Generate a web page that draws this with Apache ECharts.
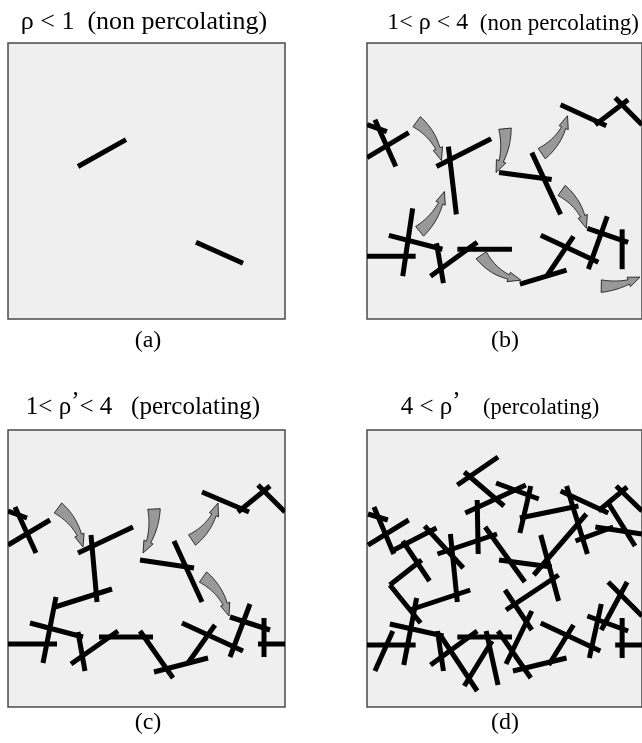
<!DOCTYPE html>
<html><head><meta charset="utf-8">
<script src="https://cdn.jsdelivr.net/npm/echarts@6/dist/echarts.min.js"></script>
<style>html,body{margin:0;padding:0;background:#fff}#c{width:642px;height:743px}</style>
</head><body><div id="c"></div>
<script>
// Panel titles: [math part, prime, math rest, parenthetical]
const titleA = ['ρ < 1', '', '', '  (non percolating)'];
const titleB = ['1< ρ < 4', '', '', '  (non percolating)'];
const titleC = ['1< ρ', '’', '< 4', '   (percolating)'];
const titleD = ['4 < ρ', '’', '', '    (percolating)'];
const panelLabels = ['(a)', '(b)', '(c)', '(d)'];

// Sticks: [x1, y1, x2, y2] in panel units (0..277, y downward)
const sticksA = [[70,124,118,97],[188,200,235,221]];
const sticksB = [
  [0,115,42,90],[8,77,29,124],[0,82,20,89],[70,124,125,96],[82,104,90,172],
  [133,130,186,137],[166,110,195,172],[195,62,241,83],[230,82,263,57],[250,55,277,82],
  [46,166,36,234],[22,193,76,207],[0,214,49,214],[70,201,77,241],[64,234,111,200],
  [91,207,146,207],[154,242,201,228],[175,193,233,220],[208,194,181,234],[242,174,223,227],
  [222,186,263,200],[257,187,257,227]
];
const sticksC = [
  [0,115,42,90],[7,77,28,123],[0,81,19,88],[70,123,125,97],[83,105,89,172],
  [132,130,186,138],[166,111,194,172],[194,62,241,82],[230,82,262,56],[250,55,277,82],
  [47,177,104,159],[48,167,35,233],[22,193,75,207],[0,214,49,214],[70,202,77,241],
  [63,234,110,201],[91,207,145,207],[132,201,165,248],[146,242,200,228],[174,193,235,221],
  [207,195,180,233],[242,174,222,227],[222,187,262,200],[256,188,256,227],[250,214,277,214]
];
const sticksD = [
  [91,55,132,27],[98,42,138,76],[99,83,160,55],[111,70,112,124],[71,124,131,104],
  [119,97,159,152],[84,104,91,172],[58,96,97,138],[25,121,70,98],[36,111,63,151],
  [1,115,42,90],[7,77,27,124],[1,84,21,90],[23,155,55,130],[23,155,54,193],
  [43,180,104,160],[50,168,37,235],[23,194,77,206],[0,215,49,215],[26,201,8,241],
  [71,201,77,241],[64,235,111,201],[91,207,146,207],[75,207,111,261],[98,256,126,211],
  [120,201,132,255],[165,56,154,103],[154,88,213,76],[195,61,243,83],[201,56,222,124],
  [233,81,262,57],[251,56,277,81],[243,73,270,116],[210,111,248,97],[230,97,277,104],
  [221,84,168,145],[175,105,193,171],[133,130,186,137],[140,180,193,145],[139,160,166,200],
  [166,181,140,234],[147,241,201,228],[132,201,165,248],[175,193,235,221],[208,195,183,235],
  [236,174,224,228],[222,186,263,201],[257,188,257,228],[250,215,277,215],[262,152,236,200],
  [243,152,277,186],[130,53,173,69]
];

// Curved arrows: [tailX, tailY, tipX, tipY, bend]
const arrowsB = [
  [50,79,75,118,-9],[139,86,130,130,-7],[176,111,202,73,9],[53,189,78,149,8],
  [115,213,155,238,10],[196,148,221,186,-9],[236,244,275,235,5]
];
const arrowsC = [
  [50,78,75,117,-9],[146,79,135,123,-7],[184,110,210,73,9],[195,147,221,186,-9]
];

const SERIF = '"Liberation Serif", "DejaVu Serif", serif';

function clipOf(params){
  const cs = params.coordSys;
  return {type:'rect', shape:{x:cs.x, y:cs.y, width:cs.width, height:cs.height}};
}
function renderStick(params, api){
  const p1 = api.coord([api.value(0), api.value(1)]);
  const p2 = api.coord([api.value(2), api.value(3)]);
  return {
    type:'line',
    shape:{x1:p1[0], y1:p1[1], x2:p2[0], y2:p2[1]},
    style:{stroke:'#000', lineWidth:5, lineCap:'butt'},
    clipPath: clipOf(params)
  };
}
function renderArrow(params, api){
  const p0 = api.coord([api.value(0), api.value(1)]);
  const p1 = api.coord([api.value(2), api.value(3)]);
  const bend = api.value(4);
  const dx = p1[0]-p0[0], dy = p1[1]-p0[1], L = Math.hypot(dx, dy);
  const c = [(p0[0]+p1[0])/2 - dy/L*bend, (p0[1]+p1[1])/2 + dx/L*bend];
  const B = t => [(1-t)*(1-t)*p0[0] + 2*(1-t)*t*c[0] + t*t*p1[0],
                  (1-t)*(1-t)*p0[1] + 2*(1-t)*t*c[1] + t*t*p1[1]];
  const T = t => {
    const x = 2*(1-t)*(c[0]-p0[0]) + 2*t*(p1[0]-c[0]);
    const y = 2*(1-t)*(c[1]-p0[1]) + 2*t*(p1[1]-c[1]);
    const l = Math.hypot(x, y);
    return [x/l, y/l];
  };
  const th = Math.max(0.5, 1 - 12/L);
  const N = 16, left = [], right = [];
  for (let i = 0; i <= N; i++) {
    const t = th*i/N, w = 12.5 + (4.5-12.5)*(i/N);
    const b = B(t), g = T(t), n = [-g[1], g[0]];
    left.push([b[0]+n[0]*w/2, b[1]+n[1]*w/2]);
    right.push([b[0]-n[0]*w/2, b[1]-n[1]*w/2]);
  }
  const bh = B(th), gh = T(th), nh = [-gh[1], gh[0]];
  const pts = left.concat([
    [bh[0]+nh[0]*5, bh[1]+nh[1]*5], p1, [bh[0]-nh[0]*5, bh[1]-nh[1]*5]
  ]).concat(right.reverse());
  return {
    type:'polygon', shape:{points:pts},
    style:{fill:'#999999', stroke:'#1e1e1e', lineWidth:0.9},
    clipPath: clipOf(params)
  };
}

const grids = [
  {left:8, top:43, width:277, height:276},
  {left:367, top:43, width:277, height:276},
  {left:8, top:430, width:277, height:277},
  {left:367, top:430, width:277, height:277}
].map(g => Object.assign(g, {show:true, backgroundColor:'#efefef', borderColor:'#4a4a4a', borderWidth:1.5}));

const xAxes = [0,1,2,3].map(i => ({type:'value', gridIndex:i, min:0, max:277, show:false}));
const yAxes = [0,1,2,3].map(i => ({type:'value', gridIndex:i, min:0, max:277, inverse:true, show:false}));

function stickSeries(data, i){
  return {type:'custom', xAxisIndex:i, yAxisIndex:i, data:data, renderItem:renderStick,
          encode:{x:[0,2], y:[1,3]}, silent:true, z:2};
}
function arrowSeries(data, i){
  return {type:'custom', xAxisIndex:i, yAxisIndex:i, data:data, renderItem:renderArrow,
          encode:{x:[0,2], y:[1,3]}, silent:true, z:3};
}

function titleText(parts, cx, cy, fsMath, fsText){
  let text = '{m|' + parts[0] + '}';
  if (parts[1]) text += '{p|' + parts[1] + '}';
  if (parts[2]) text += '{m|' + parts[2] + '}';
  text += '{t|' + parts[3] + '}';
  return {
    type:'text', x:cx, y:cy,
    style:{
      text:text, textAlign:'center', textVerticalAlign:'middle', fill:'#000',
      rich:{
        m:{fontFamily:SERIF, fontSize:fsMath, lineHeight:30, verticalAlign:'bottom', fill:'#000'},
        p:{fontFamily:SERIF, fontSize:fsMath, lineHeight:30, verticalAlign:'bottom', padding:[0,0,5,0], fill:'#000'},
        t:{fontFamily:SERIF, fontSize:fsText, lineHeight:30, verticalAlign:'bottom', fill:'#000'}
      }
    }
  };
}
function labelText(s, cx, cy){
  return {type:'text', x:cx, y:cy,
    style:{text:s, font:'24px ' + SERIF, fill:'#000', textAlign:'center', textVerticalAlign:'middle'}};
}

const chart = echarts.init(document.getElementById('c'), null, {renderer:'canvas'});
chart.setOption({
  animation:false,
  backgroundColor:'#fff',
  grid:grids, xAxis:xAxes, yAxis:yAxes,
  series:[
    stickSeries(sticksA,0), stickSeries(sticksB,1), stickSeries(sticksC,2), stickSeries(sticksD,3),
    arrowSeries(arrowsB,1), arrowSeries(arrowsC,2)
  ],
  graphic:[
    titleText(titleA, 144, 20, 26, 26), titleText(titleB, 513, 20, 24, 23),
    titleText(titleC, 143, 405, 25, 25), titleText(titleD, 500, 405, 25, 22.5),
    labelText(panelLabels[0], 148, 341), labelText(panelLabels[1], 505, 341),
    labelText(panelLabels[2], 148, 723), labelText(panelLabels[3], 505, 723)
  ]
});
</script></body></html>
